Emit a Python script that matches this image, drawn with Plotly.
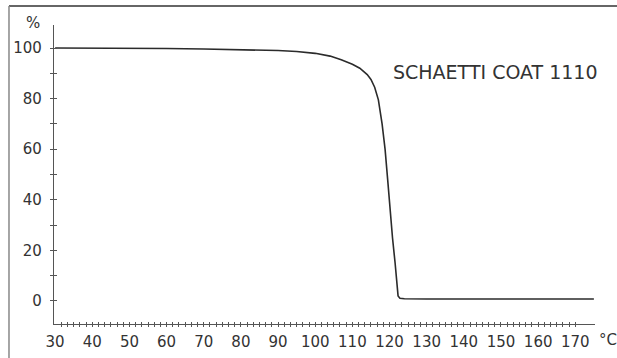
import numpy as np
import plotly.graph_objects as go

# Data (temperature °C vs remaining mass %)
temperature = [30, 40, 50, 60, 70, 80, 90, 95, 100, 104, 107, 110, 112, 114, 115, 116,
               117, 118, 118.8, 119.5, 120.1, 120.8, 121.5, 122.0, 122.3, 122.8, 124,
               130, 150, 175]
mass_pct = [100, 100, 99.9, 99.8, 99.6, 99.4, 99.0, 98.6, 97.9, 96.8, 95.4, 93.6, 92.0,
            89.5, 87.6, 84.5, 79.5, 70, 60, 48, 36, 25, 15, 7, 2, 1.1, 0.9, 0.8, 0.8, 0.8]
x_tick_labels = [str(v) for v in range(30, 171, 10)]
y_tick_labels = [str(v) for v in range(0, 101, 20)]
series_label = "SCHAETTI COAT 1110"

FONT = "DejaVu Sans"
TXT = "#333333"
AX = "#555555"
XR = [29.7, 175.3]
YR = [-9.1, 109.1]

x_minor = list(np.round(np.arange(30 + 10 / 6, 170.01, 10 / 6), 4))
y_minor = list(range(0, 101, 10))

fig = go.Figure()
fig.add_trace(go.Scatter(x=temperature, y=mass_pct, mode="lines",
                         line=dict(color="#2b2b2b", width=1.6), showlegend=False,
                         hoverinfo="skip"))
# dummy traces for tick-only overlay axes
for xa, ya in [("x2", "y"), ("x3", "y"), ("x", "y2"), ("x", "y3")]:
    fig.add_trace(go.Scatter(x=[None], y=[None], xaxis=xa, yaxis=ya, showlegend=False))

common_x = dict(range=XR, showgrid=False, zeroline=False, automargin=False)
common_y = dict(range=YR, showgrid=False, zeroline=False, automargin=False)

fig.update_layout(
    width=617, height=358,
    margin=dict(l=54, r=22, t=25, b=34),
    paper_bgcolor="white", plot_bgcolor="white",
    font=dict(family=FONT, color=TXT, size=15),
    xaxis=dict(**common_x, tickvals=list(range(30, 171, 10)), ticktext=x_tick_labels,
               ticks="", showline=True, linecolor=AX, linewidth=1.2,
               tickfont=dict(size=15, color=TXT), ticklabelstandoff=4),
    xaxis2=dict(**common_x, overlaying="x", anchor="y", tickvals=x_minor,
                ticks="outside", ticklen=2, tickcolor=AX, tickwidth=1,
                showticklabels=False, showline=False),
    xaxis3=dict(**common_x, overlaying="x", anchor="y", tickvals=x_minor,
                ticks="inside", ticklen=2, tickcolor=AX, tickwidth=1,
                showticklabels=False, showline=False),
    yaxis=dict(**common_y, tickvals=list(range(0, 101, 20)), ticktext=y_tick_labels,
               ticks="", showline=True, linecolor=AX, linewidth=1.2,
               tickfont=dict(size=15, color=TXT), ticklabelstandoff=8),
    yaxis2=dict(**common_y, overlaying="y", anchor="x", tickvals=y_minor,
                ticks="outside", ticklen=3, tickcolor=AX, tickwidth=1,
                showticklabels=False, showline=False),
    yaxis3=dict(**common_y, overlaying="y", anchor="x", tickvals=y_minor,
                ticks="inside", ticklen=3, tickcolor=AX, tickwidth=1,
                showticklabels=False, showline=False),
    annotations=[
        dict(text=series_label, x=120.5, y=90.5, xref="x", yref="y",
             xanchor="left", yanchor="middle", showarrow=False,
             font=dict(size=19, color=TXT, family=FONT)),
        dict(text="%", x=-0.039, y=1.007, xref="paper", yref="paper",
             xanchor="center", yanchor="middle", showarrow=False,
             font=dict(size=15, color=TXT, family=FONT)),
        dict(text="°C", x=1.024, y=-0.054, xref="paper", yref="paper",
             xanchor="center", yanchor="middle", showarrow=False,
             font=dict(size=15, color=TXT, family=FONT)),
    ],
    shapes=[
        dict(type="line", xref="paper", yref="paper", x0=-0.0832, x1=1.1,
             y0=1.0635, y1=1.0635, line=dict(color="#666666", width=2)),
        dict(type="line", xref="paper", yref="paper", x0=-0.0832, x1=-0.0832,
             y0=1.0635, y1=-0.3, line=dict(color="#888888", width=1.5)),
    ],
)

fig.write_html("out.html", config={"displayModeBar": False},
               post_script="document.body.style.margin='0';document.body.style.padding='0';")
